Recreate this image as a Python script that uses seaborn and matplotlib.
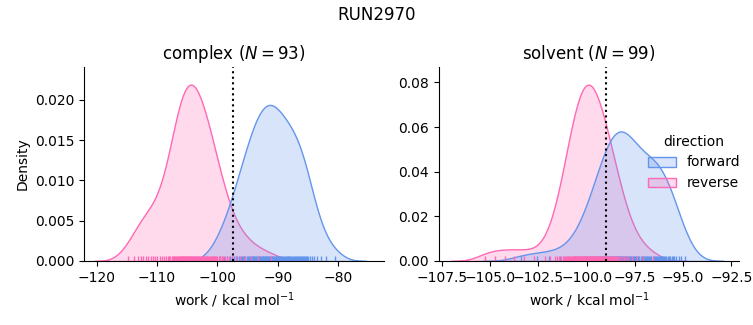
import matplotlib
matplotlib.use("Agg")
import matplotlib.pyplot as plt
import numpy as np
import pandas as pd
import seaborn as sns

run_name = "RUN2970"
phases = ["complex", "solvent"]
directions = ["forward", "reverse"]
palette = {"forward": "cornflowerblue", "reverse": "hotpink"}

# work values (kcal/mol)
complex_forward = [
    -100.62, -99.58, -98.87, -98.37, -97.93, -97.60, -97.26, -96.97, -96.71, -96.44,
    -96.17, -95.97, -95.77, -95.57, -95.36, -95.17, -95.01, -94.84, -94.67, -94.50,
    -94.33, -94.18, -94.03, -93.89, -93.74, -93.59, -93.45, -93.31, -93.18, -93.04,
    -92.91, -92.78, -92.65, -92.52, -92.39, -92.27, -92.14, -92.01, -91.88, -91.76,
    -91.63, -91.51, -91.39, -91.26, -91.14, -91.00, -90.88, -90.75, -90.63, -90.50,
    -90.37, -90.24, -90.11, -89.97, -89.84, -89.70, -89.56, -89.42, -89.27, -89.13,
    -88.98, -88.84, -88.69, -88.55, -88.39, -88.23, -88.08, -87.92, -87.76, -87.60,
    -87.44, -87.29, -87.13, -86.97, -86.82, -86.65, -86.49, -86.33, -86.16, -86.00,
    -85.83, -85.65, -85.47, -85.29, -85.10, -84.92, -84.66, -84.38, -84.02, -83.51,
    -82.90, -82.01, -80.55,
]
complex_reverse = [
    -114.89, -113.84, -113.21, -112.73, -112.28, -111.87, -111.48, -111.08, -110.71, -110.35,
    -109.97, -109.59, -109.20, -108.84, -108.48, -108.21, -108.00, -107.80, -107.60, -107.39,
    -107.25, -107.11, -106.98, -106.84, -106.71, -106.58, -106.43, -106.32, -106.21, -106.11,
    -105.99, -105.89, -105.78, -105.67, -105.56, -105.45, -105.35, -105.24, -105.14, -105.04,
    -104.93, -104.83, -104.72, -104.63, -104.52, -104.42, -104.31, -104.20, -104.09, -103.99,
    -103.88, -103.78, -103.67, -103.57, -103.44, -103.33, -103.21, -103.09, -102.97, -102.85,
    -102.73, -102.61, -102.48, -102.35, -102.21, -102.08, -101.96, -101.82, -101.69, -101.54,
    -101.39, -101.24, -101.09, -100.93, -100.79, -100.62, -100.42, -100.22, -100.02, -99.82,
    -99.58, -99.31, -99.05, -98.78, -98.39, -98.00, -97.52, -96.97, -96.30, -95.50,
    -94.51, -93.24, -91.08,
]
solvent_forward = [
    -103.39, -102.58, -101.97, -101.39, -100.92, -100.58, -100.39, -100.19, -100.06, -99.96,
    -99.85, -99.74, -99.65, -99.58, -99.52, -99.45, -99.39, -99.32, -99.26, -99.19,
    -99.15, -99.10, -99.05, -99.01, -98.96, -98.91, -98.86, -98.82, -98.77, -98.72,
    -98.69, -98.65, -98.61, -98.58, -98.54, -98.49, -98.45, -98.42, -98.38, -98.34,
    -98.30, -98.26, -98.22, -98.18, -98.15, -98.10, -98.06, -98.02, -97.98, -97.94,
    -97.90, -97.86, -97.82, -97.77, -97.72, -97.68, -97.62, -97.57, -97.52, -97.47,
    -97.43, -97.37, -97.32, -97.27, -97.20, -97.14, -97.09, -97.03, -96.98, -96.91,
    -96.86, -96.81, -96.75, -96.70, -96.64, -96.58, -96.53, -96.47, -96.42, -96.36,
    -96.30, -96.25, -96.19, -96.14, -96.09, -96.03, -95.99, -95.93, -95.86, -95.80,
    -95.73, -95.67, -95.60, -95.54, -95.47, -95.36, -95.23, -95.10, -94.89,
]
solvent_reverse = [
    -105.29, -104.73, -104.24, -103.75, -103.26, -102.75, -102.14, -101.89, -101.66, -101.55,
    -101.45, -101.34, -101.24, -101.17, -101.12, -101.07, -101.02, -100.97, -100.92, -100.87,
    -100.83, -100.78, -100.72, -100.69, -100.66, -100.62, -100.59, -100.57, -100.53, -100.50,
    -100.47, -100.43, -100.40, -100.37, -100.34, -100.31, -100.28, -100.24, -100.21, -100.18,
    -100.15, -100.13, -100.10, -100.08, -100.05, -100.02, -99.99, -99.96, -99.93, -99.90,
    -99.87, -99.85, -99.82, -99.79, -99.76, -99.73, -99.69, -99.66, -99.63, -99.61,
    -99.57, -99.54, -99.51, -99.47, -99.44, -99.41, -99.38, -99.35, -99.32, -99.29,
    -99.25, -99.21, -99.17, -99.12, -99.09, -99.05, -99.01, -98.97, -98.93, -98.89,
    -98.85, -98.81, -98.75, -98.69, -98.64, -98.58, -98.52, -98.46, -98.41, -98.35,
    -98.27, -98.17, -98.07, -97.96, -97.86, -97.64, -97.41, -97.08, -96.58,
]
free_energy = {"complex": -97.5, "solvent": -99.0}
n_works = {"complex": 93, "solvent": 99}
x_limits = {"complex": (-122.1, -72.4), "solvent": (-107.66, -92.1)}

series = {
    ("complex", "forward"): complex_forward,
    ("complex", "reverse"): complex_reverse,
    ("solvent", "forward"): solvent_forward,
    ("solvent", "reverse"): solvent_reverse,
}
rows = []
for (phase, direction), values in series.items():
    for w in values:
        rows.append((phase, direction, w))
df = pd.DataFrame(rows, columns=["phase", "direction", "work"])

g = sns.displot(
    data=df, x="work", hue="direction", col="phase", kind="kde",
    fill=True, rug=True, hue_order=directions, col_order=phases,
    palette=palette, facet_kws=dict(sharex=False, sharey=False),
    height=3.25, aspect=1.1,
)

for ax, phase in zip(g.axes.flat, phases):
    ax.axvline(free_energy[phase], color="k", ls=":")
    ax.set_title(f"{phase} ($N = {n_works[phase]}$)")
    ax.set_xlabel("work / kcal mol$^{-1}$")
    ax.set_xlim(*x_limits[phase])

g.figure.suptitle(run_name)
g.figure.set_size_inches(7.53, 3.25)
g.figure.subplots_adjust(left=84 / 753, right=739 / 753, bottom=1 - 261 / 325,
                         top=1 - 67 / 325, wspace=0.183)
g.figure.savefig("out.png", dpi=100)
